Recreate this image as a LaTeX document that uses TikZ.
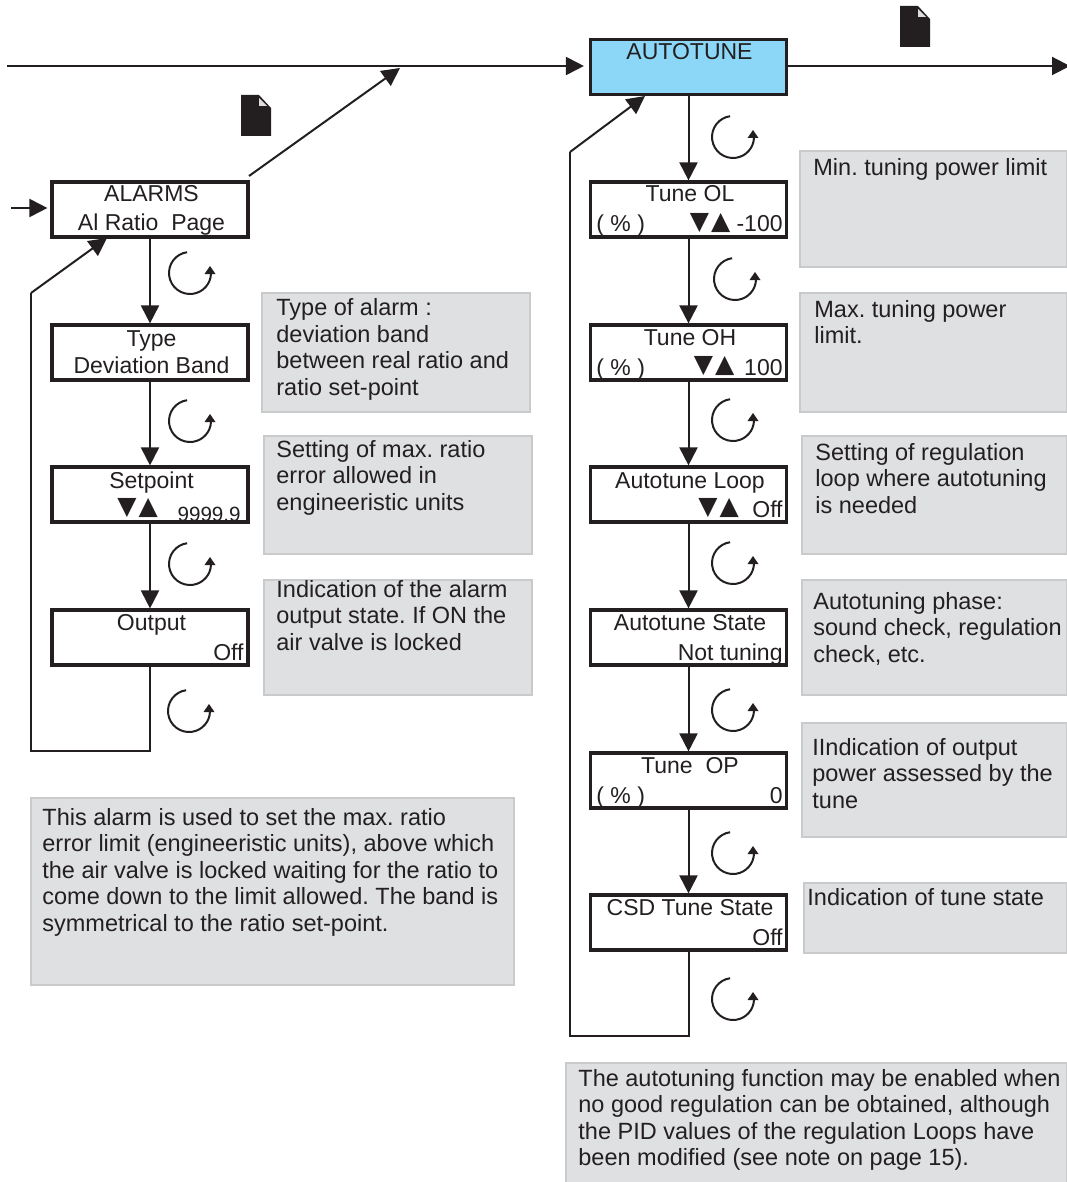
\documentclass[tikz,border=0pt]{standalone}
\usepackage{fontspec}
\setmainfont{Liberation Sans}
\newfontfamily\symfont{DejaVu Sans}
\usetikzlibrary{arrows.meta,calc}
\definecolor{inkdark}{HTML}{231F20}
\definecolor{notegrey}{HTML}{DFE0E2}
\definecolor{noteedge}{HTML}{C9CACC}
\definecolor{tuneblue}{HTML}{8CD7F7}
\def\cyclearrow(#1,#2){\draw[cycleline] ($(#1,#2)+(98:21)$) arc (98:358:21); \fill[inkdark] ($(#1,#2)+(20,7)$) -- ++(5.5,-8) -- ++(-11,0) -- cycle;}
\def\pagemark(#1,#2){\fill[inkdark] (#1,#2) -- ++(18,0) -- ++(12,-13) -- ++(0,-28) -- ++(-30,0) -- cycle; \fill[white!85!inkdark] ($(#1,#2)+(18,-3)$) -- ++(8,-8) -- ++(-8,0) -- cycle;}
\tikzset{
	menubox/.style={draw=inkdark, line width=1.6pt, minimum width=98pt, minimum height=27.5pt, inner sep=0pt},
	flowline/.style={draw=inkdark, line width=1pt},
	flowarrow/.style={flowline, -{Triangle[length=9pt,width=9pt]}},
	cycleline/.style={draw=inkdark, line width=1pt},
	notefill/.style={fill=notegrey, draw=noteedge, line width=0.9pt},
	notetext/.style={anchor=north west, align=left, inner sep=0pt, text=inkdark, font=\fontsize{11.75}{13.2}\selectfont, execute at begin node=\frenchspacing\strut},
	midlabel/.style={anchor=base, inner sep=0pt, text=inkdark, font=\fontsize{11.5}{13.2}\selectfont},
	leftlabel/.style={midlabel, anchor=base west},
	rightlabel/.style={midlabel, anchor=base east},
	updown/.style={anchor=base, inner sep=0pt, text=inkdark, font=\symfont\fontsize{12.5}{13}\selectfont}
}

\begin{document}
\begin{tikzpicture}[x=0.5pt, y=0.5pt]
		%%%%% START %%%%%
		\useasboundingbox (0, 0) rectangle (1066, -1182);
		
		% grey notes, left column
		\draw[notefill] (262, -293) rectangle (530, -412);
		\node[notetext] (typenote) at (276, -298.5) {Type of alarm :\\deviation band\\between real ratio and\\ratio set-point};
		\draw[notefill] (264, -436) rectangle (532, -554);
		\node[notetext] (setnote) at (276, -440) {Setting of max. ratio\\error allowed in\\engineeristic units};
		\draw[notefill] (264, -580) rectangle (532, -695);
		\node[notetext] (outnote) at (276, -580) {Indication of the alarm\\output state. If ON the\\air valve is locked};
		\draw[notefill] (31, -798) rectangle (514, -985);
		\node[notetext] (alarmnote) at (42, -808) {This alarm is used to set the max. ratio\\error limit (engineeristic units), above which\\the air valve is locked waiting for the ratio to\\come down to the limit allowed. The band is\\symmetrical to the ratio set-point.};
		
		% grey notes, right column
		\draw[notefill] (800, -151) rectangle (1067, -267);
		\node[notetext] (olnote) at (813, -157) {Min. tuning power limit};
		\draw[notefill] (800, -293) rectangle (1067, -412);
		\node[notetext] (ohnote) at (814, -300) {Max. tuning power\\limit.};
		\draw[notefill] (802, -436) rectangle (1067, -554);
		\node[notetext] (loopnote) at (815, -443) {Setting of regulation\\loop where autotuning\\is needed};
		\draw[notefill] (802, -580) rectangle (1067, -695);
		\node[notetext] (statenote) at (813, -592) {Autotuning phase:\\sound check, regulation\\check, etc.};
		\draw[notefill] (802, -723) rectangle (1067, -837);
		\node[notetext] (opnote) at (812, -738) {IIndication of output\\power assessed by the\\tune};
		\draw[notefill] (804, -883) rectangle (1067, -953);
		\node[notetext] (csdnote) at (807, -887) {Indication of tune state};
		\draw[notefill] (566, -1063) rectangle (1067, -1183);
		\node[notetext] (tunenote) at (578, -1069) {The autotuning function may be enabled when\\no good regulation can be obtained, although\\the PID values of the regulation Loops have\\been modified (see note on page 15).};
		
		% left menu boxes
		\node[menubox] (alarms) at (150, -209.5) {};
		\node[menubox] (type) at (150, -352.5) {};
		\node[menubox] (setpoint) at (150, -494.5) {};
		\node[menubox] (output) at (150, -637.5) {};
		
		\node[midlabel] (alarmstop) at (151.5, -202) {ALARMS};
		\node[midlabel] (alarmsbot) at (151.5, -231) {Al Ratio\ \ Page};
		\node[midlabel] (typetop) at (151.5, -346) {Type};
		\node[midlabel] (typebot) at (151.5, -373) {Deviation Band};
		\node[midlabel] (settop) at (151.5, -488) {Setpoint};
		\node[updown] (setkeys) at (137.5, -514) {▼\kern1pt▲};
		\node[rightlabel, font=\fontsize{10.3}{12}\selectfont] (setval) at (241, -521) {9999.9};
		\node[midlabel] (outtop) at (151.5, -630) {Output};
		\node[rightlabel] (outval) at (244, -660) {Off};
		
		% right menu boxes
		\node[menubox, fill=tuneblue] (autotune) at (688.5, -67) {};
		\node[menubox] (tuneol) at (688.5, -209.5) {};
		\node[menubox] (tuneoh) at (688.5, -352.5) {};
		\node[menubox] (tuneloop) at (688.5, -494.5) {};
		\node[menubox] (tunestate) at (688.5, -637.5) {};
		\node[menubox] (tuneop) at (688.5, -780.5) {};
		\node[menubox] (csdstate) at (688.5, -922.5) {};
		
		\node[midlabel] (autotunetop) at (689.5, -60) {AUTOTUNE};
		\node[midlabel] (oltop) at (690, -202) {Tune OL};
		\node[leftlabel] (olunit) at (596, -232) {( \% )};
		\node[updown] (olkeys) at (710, -229) {▼\kern1pt▲};
		\node[rightlabel] (olval) at (783, -232) {-100};
		\node[midlabel] (ohtop) at (690, -345) {Tune OH};
		\node[leftlabel] (ohunit) at (596, -375) {( \% )};
		\node[updown] (ohkeys) at (714, -372) {▼\kern1pt▲};
		\node[rightlabel] (ohval) at (783, -375) {100};
		\node[midlabel] (looptop) at (690, -488) {Autotune Loop};
		\node[updown] (loopkeys) at (718.5, -514) {▼\kern1pt▲};
		\node[rightlabel] (loopval) at (783, -517) {Off};
		\node[midlabel] (statetop) at (690, -630) {Autotune State};
		\node[rightlabel] (stateval) at (783, -660) {Not tuning};
		\node[midlabel] (optop) at (690, -773) {Tune\ \ OP};
		\node[leftlabel] (opunit) at (596, -803) {( \% )};
		\node[rightlabel] (opval) at (783, -803) {0};
		\node[midlabel] (csdtop) at (690, -915) {CSD Tune State};
		\node[rightlabel] (csdval) at (783, -945) {Off};
		
		% free ends
		\coordinate (mainin) at (7, -66);
		\coordinate (mainout) at (1070, -66);
		\coordinate (alarmsin) at (11, -208);
		\coordinate (alarmsout) at (249, -176);
		\coordinate (alarmsto) at (400, -68);
		\coordinate (leftbot) at (31, -751);
		\coordinate (lefttop) at (31, -293);
		\coordinate (leftto) at (107, -238);
		\coordinate (rightbot) at (570, -1036);
		\coordinate (righttop) at (570, -152);
		\coordinate (rightto) at (645, -96);
		
		% connectors
		\draw[flowarrow, shorten >=2.5pt] (mainin) -- (autotune.west |- mainin);
		\draw[flowarrow] (autotune.east |- mainout) -- (mainout);
		\draw[flowarrow, shorten >=1.5pt] (alarmsin) -- (alarms.west |- alarmsin);
		\draw[flowarrow] (alarmsout) -- (alarmsto);
		
		\draw[flowarrow] (alarms) -- (type);
		\draw[flowarrow] (type) -- (setpoint);
		\draw[flowarrow] (setpoint) -- (output);
		\draw[flowline] (output.south) -- (output.south |- leftbot) -- (leftbot) -- (lefttop);
		\draw[flowarrow] (lefttop) -- (leftto);
		
		\draw[flowarrow] (autotune) -- (tuneol);
		\draw[flowarrow] (tuneol) -- (tuneoh);
		\draw[flowarrow] (tuneoh) -- (tuneloop);
		\draw[flowarrow] (tuneloop) -- (tunestate);
		\draw[flowarrow] (tunestate) -- (tuneop);
		\draw[flowarrow] (tuneop) -- (csdstate);
		\draw[flowline] (csdstate.south) -- (csdstate.south |- rightbot) -- (rightbot) -- (righttop);
		\draw[flowarrow] (righttop) -- (rightto);
		
		% cycle marks
		\cyclearrow(190, -273)
		\cyclearrow(190, -421)
		\cyclearrow(190, -564)
		\cyclearrow(189, -711)
		
		\cyclearrow(733, -137)
		\cyclearrow(735, -279)
		\cyclearrow(733, -420)
		\cyclearrow(733, -563)
		\cyclearrow(733, -710)
		\cyclearrow(733, -853)
		\cyclearrow(733, -999)
		
		% page marks
		\pagemark(241, -95)
		\pagemark(900, -6)
		
		%%%%% END %%%%%
	\end{tikzpicture}
\end{document}
